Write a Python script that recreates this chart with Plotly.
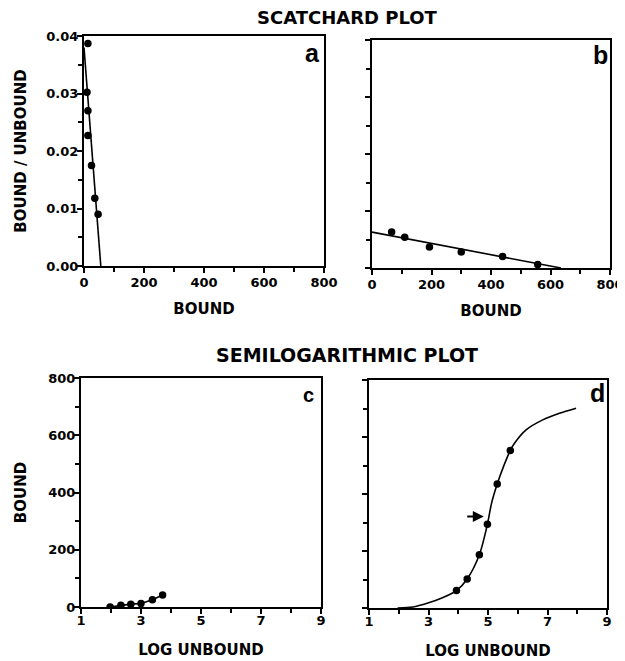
import plotly.graph_objects as go

# ---- data ----
# Panel a: Scatchard (bound vs bound/unbound)
a_bound = [13, 10, 13, 13, 25, 36, 47]
a_ratio = [0.0387, 0.0302, 0.0270, 0.0227, 0.0175, 0.0118, 0.0090]
a_fit_x = [0, 56]
a_fit_y = [0.0380, 0.0]

# Panel b
b_bound = [66, 110, 193, 300, 439, 557]
b_ratio = [0.0063, 0.0054, 0.0037, 0.0028, 0.0020, 0.0006]
b_fit_x = [0, 635]
b_fit_y = [0.0063, 0.0]

# Panel c: semilog
c_logu = [1.97, 2.33, 2.66, 3.0, 3.38, 3.72]
c_bound = [0, 6, 10, 12, 25, 42]

# Panel d
d_logu = [3.94, 4.30, 4.71, 4.98, 5.31, 5.75]
d_bound = [61, 102, 187, 294, 435, 553]
d_curve_x = [1.96, 2.47, 2.98, 3.49, 3.94, 4.30, 4.71, 4.98, 5.12, 5.31, 5.52, 5.75,
             5.89, 6.28, 6.84, 7.40, 7.96]
d_curve_y = [0, 3.5, 17.5, 37, 61, 102, 187, 294, 368, 435, 496, 553,
             578, 625, 660, 683, 701]

x_ticks_bound = [0, 200, 400, 600, 800]
y_ticks_ratio = [0.00, 0.01, 0.02, 0.03, 0.04]
x_ticks_log = [1, 3, 5, 7, 9]
y_ticks_bound = [0, 200, 400, 600, 800]

# page body adds an 8px margin; size the figure so it fits the 625x661 window
OFF = 8
W, H = 625 - OFF, 661 - OFF
FONT = "Liberation Sans"
FONT2 = "DejaVu Sans"

def px(x):
    return (x - OFF) / W

def py(y):
    return 1 - (y - OFF) / H

def dx(a, b):
    return [px(a), px(b)]

def dy(top, bottom):
    return [py(bottom), py(top)]

fig = go.Figure()
mk = dict(color="black", size=7.5)
ln = dict(color="black", width=1.6)

fig.add_trace(go.Scatter(x=a_fit_x, y=a_fit_y, mode="lines", line=ln, xaxis="x", yaxis="y"))
fig.add_trace(go.Scatter(x=a_bound, y=a_ratio, mode="markers", marker=mk, xaxis="x", yaxis="y"))
fig.add_trace(go.Scatter(x=b_fit_x, y=b_fit_y, mode="lines", line=ln, xaxis="x2", yaxis="y2"))
fig.add_trace(go.Scatter(x=b_bound, y=b_ratio, mode="markers", marker=mk, xaxis="x2", yaxis="y2"))
fig.add_trace(go.Scatter(x=c_logu, y=c_bound, mode="lines+markers", marker=mk, line=ln, xaxis="x3", yaxis="y3"))
fig.add_trace(go.Scatter(x=d_curve_x, y=d_curve_y, mode="lines",
                         line=dict(color="black", width=1.6, shape="spline", smoothing=0.8),
                         xaxis="x4", yaxis="y4"))
fig.add_trace(go.Scatter(x=d_logu, y=d_bound, mode="markers", marker=mk, xaxis="x4", yaxis="y4"))

tickfont = dict(family=FONT2, size=13, color="black", weight="bold")
titlefont = dict(family=FONT2, size=15, color="black", weight="bold")

def ax(domain, rng, tickvals, dtick_minor, anchor, showlabels=True, title=None, standoff=16,
       labstand=-2):
    d = dict(domain=domain, range=rng, anchor=anchor, showgrid=False, zeroline=False,
             showline=True, linecolor="black", linewidth=2, mirror=True,
             ticks="outside", ticklen=5, tickwidth=2, tickcolor="black",
             tickmode="array", tickvals=tickvals, showticklabels=showlabels,
             tickfont=tickfont, automargin=False, ticklabelstandoff=labstand,
             minor=dict(ticks="outside", ticklen=4, tickwidth=2, tickcolor="black", dtick=dtick_minor, tick0=0))
    if title:
        d["title"] = dict(text=title, font=titlefont, standoff=standoff)
    return d

fig.update_layout(
    width=W, height=H, margin=dict(l=0, r=0, t=0, b=0),
    paper_bgcolor="white", plot_bgcolor="white", showlegend=False,
    font=dict(family=FONT, color="black"),
    xaxis=ax(dx(84, 324), [0, 800], x_ticks_bound, 100, "y", True, "BOUND", 15, -2),
    yaxis=ax(dy(36, 266), [0, 0.04], y_ticks_ratio, 0.005, "x", True, "BOUND / UNBOUND", 16, -4),
    xaxis2=ax(dx(372, 610), [0, 800], x_ticks_bound, 100, "y2", True, "BOUND", 15, -2),
    yaxis2=ax(dy(40, 268), [0, 0.04], y_ticks_ratio, 0.005, "x2", False, None, 0, -4),
    xaxis3=ax(dx(81, 321), [1, 9], x_ticks_log, 1, "y3", True, "LOG UNBOUND", 18, -5),
    yaxis3=ax(dy(378, 607), [0, 800], y_ticks_bound, 100, "x3", True, "BOUND", 18, -4),
    xaxis4=ax(dx(369, 607), [1, 9], x_ticks_log, 1, "y4", True, "LOG UNBOUND", 18, -5),
    yaxis4=ax(dy(380, 608), [0, 800], y_ticks_bound, 100, "x4", False, None, 0, -4),
)
fig.layout.yaxis.tickformat = ".2f"

ann = []
ann.append(dict(text="<b>SCATCHARD PLOT</b>", x=px(347), y=py(18), xref="paper", yref="paper",
                xanchor="center", yanchor="middle",
                showarrow=False, font=dict(family=FONT2, size=18, color="black")))
ann.append(dict(text="<b>SEMILOGARITHMIC PLOT</b>", x=px(347), y=py(355), xref="paper", yref="paper",
                xanchor="center", yanchor="middle",
                showarrow=False, font=dict(family=FONT2, size=19, color="black")))
for t, x, y, s in [("a", 312, 53, 25), ("b", 600, 55, 25), ("c", 308, 395, 20), ("d", 597, 393, 25)]:
    ann.append(dict(text="<b>" + t + "</b>", x=px(x), y=py(y), xref="paper", yref="paper", showarrow=False,
                    xanchor="center", yanchor="middle",
                    font=dict(family=FONT, size=s, color="black")))
ann.append(dict(x=4.86, y=321, ax=4.25, ay=321, xref="x4", yref="y4", axref="x4", ayref="y4",
                showarrow=True, arrowhead=2, arrowsize=1, arrowwidth=2.2, arrowcolor="black", text=""))
fig.update_layout(annotations=ann)

fig.write_html("out.html")
